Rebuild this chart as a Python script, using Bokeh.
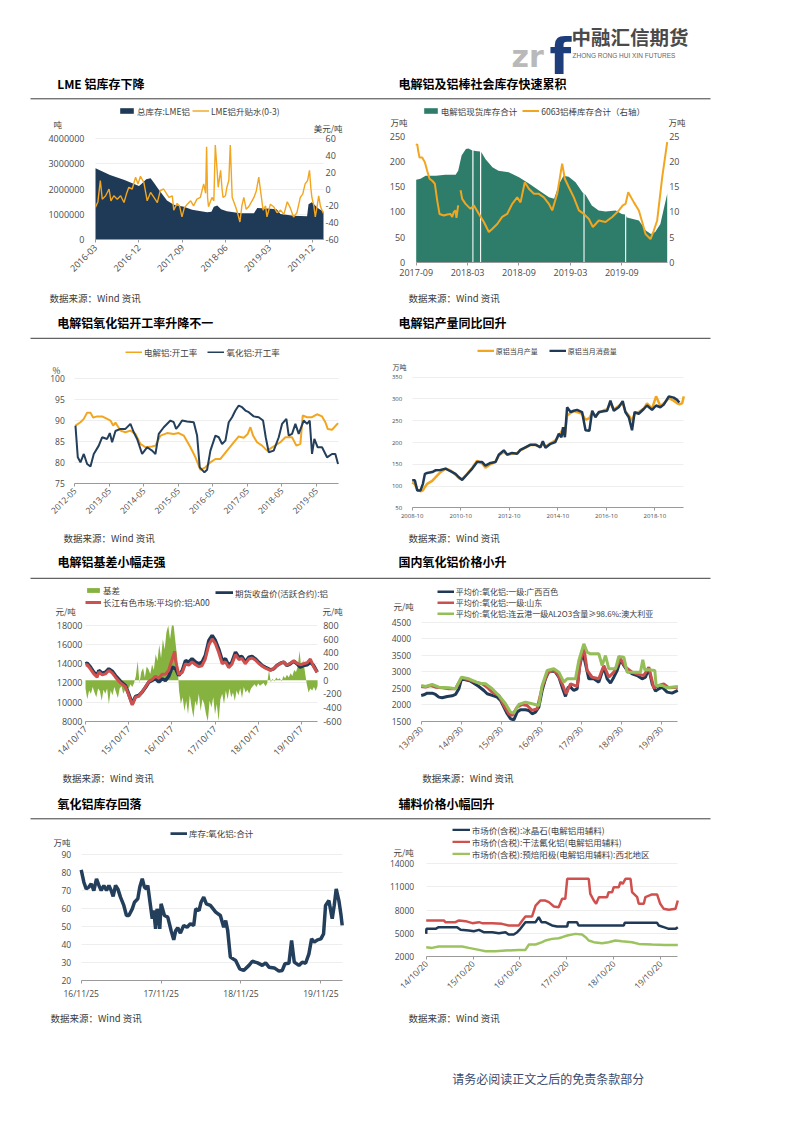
import math
import numpy as np
from bokeh.plotting import figure
from bokeh.models import Range1d, LinearAxis, FixedTicker, Legend, LegendItem, Label
from bokeh.layouts import column, row
from bokeh.core.properties import value
from bokeh.embed import file_html
from bokeh.resources import INLINE

# ======================= DATA =======================
# Chart 1: LME inventory (t) and LME 0-3 spread (USD/t); x = months since 2016-03
lme_inventory = [(0, 2820000), (3, 2550000), (6, 2350000), (9, 2120000), (9.5, 2200000), (10.5, 2380000),
                 (11.4, 2420000), (12.1, 2250000), (13, 2000000), (14.8, 1550000), (16.2, 1380000),
                 (18.3, 1300000), (20, 1180000), (23.1, 1080000), (24, 1100000), (24.5, 1300000),
                 (25.2, 1350000), (26, 1200000), (27.2, 1120000), (30, 1050000), (32.8, 1050000),
                 (33.5, 1250000), (36.2, 1220000), (37.5, 1200000), (38.3, 1020000), (41, 950000),
                 (43.8, 930000), (44.1, 1400000), (44.8, 1480000), (46, 1250000), (47.2, 1100000)]
lme_spread = [(0, -21.5), (0.5, -15), (1.0, 10), (1.4, -12), (2.1, -8), (2.8, 0), (3.2, -14), (3.8, -8),
              (4.5, -12), (5.2, -8), (5.9, -16), (6.4, -6), (6.9, 2), (7.6, 0), (8.3, 14), (8.8, 6),
              (9.3, 15), (10.0, 8), (10.7, -14), (11.4, -4), (12.1, -10), (12.8, -16), (13.4, -2),
              (14.1, 0), (15.2, -10), (15.9, -8), (16.2, -25), (16.9, -17), (17.4, -20), (17.9, -33),
              (18.4, -22), (19.0, -18), (19.7, -14), (20.3, -20), (21.0, -12), (21.7, -10), (22.4, 6),
              (22.8, -5), (23.0, 50), (23.2, -10), (23.4, -21), (24.1, -10), (24.5, -14), (24.8, 52),
              (25.2, 20), (25.4, 2), (25.9, 22), (26.2, 0), (26.4, -10), (26.9, -8), (27.2, 2),
              (27.6, 10), (27.9, 52), (28.3, -10), (29.0, -21), (29.4, -28), (29.9, -39), (30.3, -20),
              (30.7, -10), (31.2, -24), (31.7, -21), (32.2, -16), (32.8, -10), (33.3, -2), (33.8, 14),
              (34.3, -8), (34.7, -25), (35.2, -20), (35.5, -33), (36.2, -18), (36.9, -21), (37.6, -28),
              (38.3, -25), (39.0, -30), (39.7, -15), (40.3, -22), (41.0, -33), (41.7, -28), (42.4, -10),
              (42.9, -6), (43.4, 6), (43.9, 10), (44.3, 22), (44.6, 0), (44.8, -10), (45.2, -20),
              (45.5, -33), (45.9, -20), (46.2, -8), (46.6, -21), (46.9, -25), (47.2, -29)]
lme_xticks = [0, 9, 18, 27, 36, 45]
lme_xlabels = ["2016-03", "2016-12", "2017-09", "2018-06", "2019-03", "2019-12"]
lme_yticks = [0, 1000000, 2000000, 3000000, 4000000]
lme_rticks = [-60, -40, -20, 0, 20, 40, 60]

# Chart 2: social inventory (10kt) and 6063 billet inventory (10kt, right); x = months since 2017-09
social_stock = [(0, 164), (0.5, 166), (1.1, 172), (2.3, 172), (3.4, 174), (4.6, 174), (4.9, 182), (5.3, 212),
                (5.8, 225), (6.1, 226), (6.55, 222), (6.56, 0), (6.68, 0), (6.69, 222), (6.9, 221),
                (7.45, 220), (7.46, 0), (7.58, 0), (7.59, 219), (8.1, 205), (8.9, 189), (9.6, 182),
                (10.8, 179), (12.0, 169), (13.2, 156), (14.3, 143), (15.5, 129), (16.1, 126), (16.7, 156),
                (17.2, 172), (17.8, 170), (18.6, 159), (19.4, 139), (19.52, 137), (19.53, 0), (19.65, 0),
                (19.66, 136), (19.8, 133), (20.5, 113), (21.3, 103), (22.1, 101), (23.3, 103), (24.0, 96),
                (24.38, 95), (24.39, 0), (24.51, 0), (24.52, 92), (24.6, 89), (26.0, 83), (26.8, 63),
                (27.4, 56), (27.9, 60), (28.5, 76), (29.3, 136)]
billet_stock = [(0, 23.2), (0.12, 23.5), (0.23, 22.2), (0.39, 20.8), (0.70, 20.8), (1.01, 19.9), (1.28, 18.2),
                (1.56, 16.6), (1.87, 16.2), (2.18, 15.6), (2.45, 12.3), (2.72, 9.6), (3.23, 9.3), (3.62, 9.5),
                (4.01, 9.6), (4.20, 9.0), (4.4, 10.0), (4.59, 10.3), (4.7, 8.8), (4.90, 11.3),
                (5.0, float("nan")),
                (5.18, 14.3), (5.37, 12.6), (5.76, 11.6), (6.34, 10.6), (6.73, 11.3), (7.32, 9.6),
                (7.90, 8.0), (8.48, 6.0), (8.87, 6.6), (9.46, 7.6), (10.04, 9.0), (10.62, 9.6), (11.21, 11.6),
                (11.79, 12.9), (12.18, 11.9), (12.68, 15.9), (13.15, 14.6), (13.74, 13.6), (14.32, 13.6),
                (14.90, 12.9), (15.49, 11.6), (15.88, 10.3), (16.46, 13.6), (17.04, 19.6), (17.35, 16.6),
                (17.82, 14.9), (18.40, 12.9), (18.99, 10.3), (19.57, 9.6), (20.16, 8.6), (20.62, 7.0),
                (21.32, 8.3), (22.10, 8.0), (22.88, 9.0), (23.66, 10.3), (24.12, 11.3), (24.44, 11.6),
                (24.75, 13.9), (25.41, 11.9), (25.99, 10.3), (26.38, 8.0), (26.77, 5.6), (27.35, 4.6),
                (27.74, 6.3), (28.13, 8.3), (28.72, 16.9), (29.30, 23.9)]
soc_xticks = [0, 6, 12, 18, 24]
soc_xlabels = ["2017-09", "2018-03", "2018-09", "2019-03", "2019-09"]
soc_yticks = [0, 50, 100, 150, 200, 250]
soc_rticks = [0, 5, 10, 15, 20, 25]

# Chart 3: operating rates (%); x = months since 2012-05
smelter_rate = [(0.23, 88.8), (1.97, 89.6), (3.13, 90.4), (4.29, 91.9), (5.45, 91.9), (6.37, 90.7), (7.76, 91.0),
                (9.50, 91.0), (11.24, 90.4), (12.40, 90.0), (13.33, 88.8), (14.14, 89.5), (15.87, 87.6),
                (17.61, 87.2), (19.35, 87.6), (21.09, 86.8), (22.83, 84.4), (24.57, 83.6), (26.88, 83.8),
                (28.04, 84.0), (29.78, 86.4), (32.10, 87.0), (34.41, 86.8), (36.15, 87.0), (37.89, 86.4),
                (40.21, 83.6), (41.95, 81.2), (43.68, 78.2), (45.42, 78.8), (47.16, 80.0), (48.90, 80.8),
                (50.64, 80.8), (52.95, 82.8), (55.27, 84.8), (57.01, 86.2), (58.75, 85.9), (60.14, 86.8),
                (61.07, 88.4), (62.00, 86.4), (63.38, 84.8), (65.12, 84.0), (66.86, 82.8), (69.18, 83.8),
                (71.50, 84.8), (73.23, 86.0), (75.55, 86.0), (77.06, 84.0), (78.45, 84.4), (79.26, 91.2),
                (80.77, 90.8), (82.50, 90.8), (84.24, 91.5), (85.98, 91.0), (87.14, 89.6), (87.95, 88.0),
                (89.46, 87.8), (91.54, 89.4)]
alumina_rate = [(0.23, 88.8), (1.04, 81.2), (1.97, 80.0), (3.13, 82.0), (4.29, 79.6), (5.45, 79.0), (6.60, 82.0),
                (8.34, 84.0), (9.50, 86.0), (11.24, 85.6), (12.17, 87.0), (12.98, 84.8), (14.14, 87.5),
                (15.87, 88.0), (17.61, 88.0), (19.35, 89.2), (20.51, 87.2), (21.67, 85.6), (23.41, 82.0),
                (25.14, 83.6), (26.88, 82.8), (28.04, 82.0), (29.20, 86.8), (30.94, 88.4), (33.26, 90.0),
                (34.41, 89.6), (35.23, 88.0), (36.15, 88.8), (37.31, 90.0), (39.05, 89.8), (41.37, 89.6),
                (42.53, 86.4), (43.45, 78.8), (45.08, 77.6), (46.00, 78.2), (47.16, 82.8), (48.90, 86.4),
                (50.06, 86.0), (51.22, 84.4), (52.38, 85.2), (53.53, 89.6), (54.69, 90.8), (55.85, 92.4),
                (57.01, 93.6), (58.17, 93.2), (59.33, 92.4), (60.49, 92.0), (62.22, 91.0), (63.96, 90.8),
                (65.47, 90.0), (66.40, 86.0), (67.44, 82.4), (69.18, 82.8), (70.92, 86.0), (72.07, 89.2),
                (73.58, 90.4), (74.39, 86.4), (75.55, 86.8), (76.71, 89.2), (77.87, 86.8), (79.61, 90.0),
                (80.77, 89.2), (81.69, 90.0), (82.50, 82.0), (83.31, 85.6), (84.47, 83.6), (85.98, 83.6),
                (87.72, 81.2), (89.46, 82.0), (90.61, 82.0), (91.54, 79.6)]
rate_xticks = [0, 12, 24, 36, 48, 60, 72, 84]
rate_xlabels = ["2012-05", "2013-05", "2014-05", "2015-05", "2016-05", "2017-05", "2018-05", "2019-05"]
rate_yticks = [75, 80, 85, 90, 95, 100]

# Chart 4: primary aluminium output / consumption (10kt); x = months since 2008-10
al_output = [(0, 108), (1.3, 104), (2.5, 92), (4.1, 88), (5.3, 90), (6.3, 98), (7.4, 105), (9.9, 112),
             (11.5, 120), (14.0, 132), (16.5, 140), (18.9, 136), (21.4, 126), (23.1, 118), (24.7, 116),
             (27.2, 128), (29.7, 142), (32.1, 158), (34.6, 152), (36.2, 142), (38.7, 150), (41.2, 156),
             (42.8, 170), (45.3, 178), (47.0, 172), (49.4, 174), (51.9, 176), (53.5, 182), (56.0, 188),
             (58.5, 194), (61.0, 194), (63.4, 190), (64.6, 198), (65.9, 190), (68.4, 198), (70.8, 205),
             (72.5, 215), (73.8, 225), (74.6, 230), (75.5, 218), (76.6, 262), (78.3, 268), (79.9, 272),
             (81.5, 270), (84.0, 266), (85.7, 252), (87.6, 256), (89.0, 268), (90.6, 262), (92.3, 268),
             (94.7, 274), (96.4, 276), (98.0, 290), (99.7, 276), (102.1, 284), (104.1, 290), (105.4, 272),
             (107.1, 262), (108.7, 250), (110.0, 266), (112.0, 270), (114.5, 278), (116.1, 290),
             (118.6, 278), (120.6, 306), (122.7, 284), (124.4, 290), (126.9, 302), (129.3, 296),
             (131.0, 290), (132.1, 288), (133.5, 290), (134.3, 306)]
al_consumption = [(0, 113), (1.3, 113), (2.5, 90), (4.1, 90), (5.3, 105), (6.3, 128), (7.4, 130), (9.9, 132),
                  (11.5, 136), (14.0, 137), (16.5, 140), (18.9, 134), (21.4, 128), (23.1, 120), (24.7, 114),
                  (27.2, 127), (29.7, 140), (32.1, 155), (34.6, 155), (36.2, 147), (38.7, 153), (41.2, 155),
                  (42.8, 172), (45.3, 182), (47.0, 172), (49.4, 176), (51.9, 174), (53.5, 183), (56.0, 189),
                  (58.5, 195), (61.0, 195), (63.4, 189), (64.6, 203), (65.9, 188), (68.4, 197), (70.8, 201),
                  (72.5, 220), (73.8, 212), (74.6, 235), (75.5, 212), (76.6, 281), (78.3, 270), (79.9, 273),
                  (81.5, 275), (84.0, 270), (85.7, 228), (87.6, 227), (89.0, 273), (90.6, 258), (92.3, 270),
                  (94.7, 272), (96.4, 273), (98.0, 296), (99.7, 273), (102.1, 281), (104.1, 295),
                  (105.4, 270), (107.1, 258), (108.7, 228), (110.0, 270), (112.0, 266), (114.5, 277),
                  (116.1, 285), (118.6, 275), (120.6, 285), (122.7, 281), (124.4, 287), (126.9, 306),
                  (129.3, 303), (131.0, 298), (132.1, 292)]
prod_xticks = [0, 24, 48, 72, 96, 120]
prod_xlabels = ["2008-10", "2010-10", "2012-10", "2014-10", "2016-10", "2018-10"]
prod_yticks = [50, 100, 150, 200, 250, 300, 350]

# Chart 5: basis (right axis, every half month from 14/10/17; spikes above 800 are cut by the frame)
basis_values = [-120, -280, -150, -200, -100, -180, -250, -120, -160, -300, -140, -200, -120, -350,
                -150, -220, -100, -180, -260, -120, -90, -200, -140, -80, -120, -60, -100, -40,
                60, 280, -40, 120, 180, 40, 200, 160, 90, 230, 150, 380, 280, 520,
                320, 600, 450, 700, 800, 600, 800, 800, 560, 320, -150, -350, -250, -450,
                -300, -500, -220, -400, -550, -300, -380, -200, -450, -280, -350, -500, -600, -300,
                -400, -250, -500, -350, -600, -280, -200, -350, -150, -280, -120, -250, -180, -300,
                -150, -220, -120, -260, -100, -180, -140, -200, -120, -90, -60, -100, -50, -80,
                -60, -40, -90, -50, 150, -30, 20, -20, 40, 10, 30, -20, 60, 30,
                80, 40, 100, 60, 150, 120, 200, 430, 160, 300, 120, -60, -180, -120,
                -150, -100, -160, -80]
futures_price = [(0, 13990), (0.46, 14060), (1.39, 13640), (2.31, 13120), (3.24, 12770), (3.7, 13300),
                 (4.63, 13020), (5.56, 13120), (6.48, 13470), (7.41, 13230), (8.33, 12770), (9.72, 12180),
                 (11.1, 11730), (12.0, 10860), (13.0, 9810), (13.9, 10580), (14.8, 10680), (15.7, 11030),
                 (16.7, 11550), (17.6, 12080), (18.5, 12250), (19.4, 12430), (20.4, 12100), (21.3, 12430),
                 (22.2, 12250), (23.1, 12670), (24.1, 13640), (25.0, 13500), (25.9, 12770), (26.9, 13300),
                 (27.8, 14340), (28.7, 14170), (29.6, 14520), (30.6, 14170), (31.5, 13990), (32.4, 14170),
                 (33.3, 14860), (34.3, 16430), (35.2, 16950), (36.1, 16430), (37.0, 15560), (38.0, 14340),
                 (38.9, 14520), (39.8, 13820), (40.7, 14170), (41.7, 15210), (42.6, 14690), (43.5, 14760),
                 (44.4, 14170), (45.4, 14690), (46.3, 14760), (47.2, 14520), (48.1, 14170), (49.1, 13820),
                 (50.0, 13640), (51.4, 13370), (52.3, 13470), (53.2, 13820), (54.2, 14060), (55.1, 14170),
                 (56.0, 13820), (56.9, 13990), (57.9, 14270), (58.8, 13990), (59.7, 13640), (60.6, 13820),
                 (61.6, 13890), (62.5, 14170), (63.4, 13820), (64.4, 13120)]
spot_price = [(0, 13850), (0.46, 13900), (1.39, 13450), (2.31, 12950), (3.24, 12600), (3.7, 13150),
              (4.63, 12850), (5.56, 12950), (6.48, 13300), (7.41, 13050), (8.33, 12600), (9.72, 12000),
              (11.1, 11600), (12.0, 10750), (13.0, 9700), (13.9, 10500), (14.8, 10600), (15.7, 11050),
              (16.7, 11600), (17.6, 12150), (18.5, 12350), (19.4, 12700), (20.4, 12500), (21.3, 12900),
              (22.2, 12900), (23.1, 13300), (24.1, 14500), (24.8, 15300), (25.0, 14400), (25.9, 12900),
              (26.9, 13100), (27.8, 14000), (28.7, 13850), (29.6, 14200), (30.6, 13900), (31.5, 13700),
              (32.4, 13800), (33.3, 14500), (34.3, 16000), (35.2, 16600), (36.1, 16100), (37.0, 15200),
              (38.0, 14000), (38.9, 14200), (39.8, 13600), (40.7, 13950), (41.7, 14950), (42.6, 14450),
              (43.5, 14550), (44.4, 14000), (45.4, 14500), (46.3, 14600), (47.2, 14400), (48.1, 14050),
              (49.1, 13750), (50.0, 13550), (51.4, 13300), (52.3, 13500), (53.2, 13800), (54.2, 14050),
              (55.1, 14200), (56.0, 13850), (56.9, 14050), (57.9, 14300), (58.8, 14050), (59.7, 13900),
              (60.6, 14000), (61.6, 14100), (62.5, 14500), (63.4, 13700), (64.4, 13100)]
basis_xticks = [0, 12, 24, 36, 48, 60]
basis_xlabels = ["14/10/17", "15/10/17", "16/10/17", "17/10/17", "18/10/17", "19/10/17"]
basis_yticks = [8000, 10000, 12000, 14000, 16000, 18000]
basis_rticks = [-600, -400, -200, 0, 200, 400, 600, 800]

# Chart 6: alumina prices (yuan/t); x = months since 13/9/30
alumina_guangxi = [(0, 2287), (0.8, 2307), (1.8, 2357), (3.3, 2357), (4.3, 2317), (5.3, 2237), (6.3, 2216),
                   (7.8, 2257), (9.3, 2277), (10.3, 2317), (11.3, 2488), (12.1, 2790), (13.3, 2760),
                   (14.8, 2720), (15.8, 2659), (17.3, 2558), (18.8, 2438), (19.8, 2337), (21.3, 2287),
                   (22.8, 2237), (23.8, 2136), (24.8, 1935), (25.8, 1733), (26.8, 1582), (27.8, 1552),
                   (28.8, 1784), (29.8, 1854), (31.3, 1854), (32.3, 1834), (33.3, 1733), (34.3, 1784),
                   (35.3, 1935), (36.3, 2438), (37.3, 2790), (38.3, 3021), (39.3, 3021), (40.3, 2991),
                   (41.3, 2840), (42.3, 2538), (43.3, 2257), (44.1, 2538), (44.8, 2538), (45.8, 2438),
                   (46.8, 2488), (47.5, 3142), (48.5, 3595), (49.3, 3242), (50.3, 2790), (51.8, 2790),
                   (53.3, 2689), (54.8, 3142), (55.8, 2790), (56.8, 2659), (57.8, 2840), (58.8, 3041),
                   (59.8, 3363), (60.8, 3192), (61.8, 3041), (63.3, 2941), (64.8, 2890), (66.3, 2790),
                   (67.3, 2840), (68.3, 3092), (69.3, 2639), (70.3, 2417), (71.3, 2488), (72.3, 2538),
                   (73.8, 2387), (75.3, 2357), (77.0, 2438)]
alumina_shandong = [(0, 2558), (1.3, 2538), (2.8, 2588), (4.3, 2538), (6.3, 2518), (8.3, 2488), (10.3, 2488),
                    (12.1, 2820), (14.3, 2760), (16.3, 2689), (18.3, 2639), (19.8, 2538), (21.3, 2387),
                    (23.3, 2287), (24.8, 1985), (26.3, 1733), (27.3, 1683), (28.8, 1935), (30.3, 2015),
                    (31.8, 1985), (33.3, 1834), (34.8, 1885), (36.3, 2538), (37.8, 2941), (39.3, 3061),
                    (40.8, 2961), (42.3, 2639), (43.5, 2337), (44.8, 2639), (46.8, 2558), (47.8, 3343),
                    (48.8, 3746), (49.8, 3041), (51.3, 2840), (53.3, 2790), (54.8, 3192), (56.3, 2840),
                    (57.8, 2991), (59.8, 3393), (61.3, 3142), (63.3, 2991), (65.3, 2920), (66.8, 2890),
                    (68.3, 3142), (69.8, 2518), (71.3, 2588), (72.8, 2639), (74.3, 2518), (77.0, 2538)]
alumina_australia = [(0, 2588), (1.3, 2558), (3.3, 2618), (5.3, 2538), (8.3, 2518), (10.3, 2488), (12.1, 2840),
                     (14.3, 2790), (17.3, 2659), (19.3, 2639), (21.3, 2488), (23.3, 2287), (25.3, 2035),
                     (26.8, 1784), (27.8, 1754), (29.3, 2015), (31.3, 2086), (33.3, 2035), (35.3, 1985),
                     (36.3, 2588), (37.8, 3041), (39.8, 3092), (41.3, 2991), (42.8, 2689), (43.8, 2790),
                     (46.3, 2790), (47.3, 3343), (48.8, 3847), (49.8, 3595), (50.8, 3545), (53.3, 3545),
                     (54.3, 3192), (55.3, 3494), (56.3, 3092), (58.3, 3092), (59.3, 3464), (60.8, 3444),
                     (61.8, 2991), (65.8, 2991), (66.5, 3363), (67.1, 3061), (68.3, 3061), (70.1, 3041),
                     (70.5, 2588), (72.3, 2588), (73.8, 2518), (77.0, 2558)]
ao_xticks = [0, 12, 24, 36, 48, 60, 72]
ao_xlabels = ["13/9/30", "14/9/30", "15/9/30", "16/9/30", "17/9/30", "18/9/30", "19/9/30"]
ao_yticks = [1500, 2000, 2500, 3000, 3500, 4000, 4500]

# Chart 7: alumina inventory (10kt); x = months since 16/11/25
alumina_stock = [(0, 81.5), (0.4, 74.6), (0.75, 70.9), (1.15, 71.9), (1.5, 73.7), (1.9, 70.0), (2.3, 76.5),
                 (2.66, 72.8), (3.0, 70.0), (3.4, 72.8), (3.8, 70.0), (4.16, 72.8), (4.5, 70.0), (4.8, 66.7),
                 (5.16, 72.8), (5.5, 70.9), (5.9, 66.3), (6.4, 61.7), (6.8, 56.1), (7.16, 56.1), (7.67, 59.8),
                 (8.0, 63.5), (8.5, 65.4), (8.8, 71.9), (9.17, 76.5), (9.5, 71.9), (9.8, 70.9), (10.0, 72.8),
                 (10.3, 64.4), (10.67, 54.3), (10.9, 58.9), (11.17, 48.7), (11.4, 59.8), (11.67, 55.2),
                 (11.8, 48.7), (12.0, 62.6), (12.5, 56.1), (13.0, 55.2), (13.5, 47.8), (13.9, 42.6),
                 (14.2, 47.8), (14.5, 49.3), (14.9, 46.3), (15.4, 50.6), (15.9, 49.6), (16.4, 51.5),
                 (16.9, 50.6), (17.2, 59.8), (17.7, 58.9), (18.0, 63.5), (18.4, 66.3), (18.8, 62.6),
                 (19.4, 61.7), (20.2, 58.0), (20.9, 56.1), (21.4, 49.6), (21.7, 53.3), (22.0, 47.8),
                 (22.4, 33.0), (23.2, 31.1), (23.8, 26.5), (24.4, 25.6), (25.2, 28.4), (25.7, 30.7),
                 (26.5, 29.8), (27.2, 28.4), (27.7, 29.8), (28.2, 27.4), (29.0, 27.0), (29.7, 25.2),
                 (30.2, 25.6), (30.6, 29.3), (31.2, 29.6), (31.6, 42.2), (32.0, 30.2), (32.7, 28.4),
                 (33.2, 30.2), (33.7, 29.6), (34.2, 34.8), (34.6, 43.1), (35.0, 41.3), (35.5, 42.6),
                 (36.0, 43.1), (36.4, 45.9), (36.7, 61.7), (37.2, 64.4), (37.7, 54.3), (38.0, 61.7),
                 (38.3, 70.9), (38.7, 64.4), (39.0, 57.0), (39.2, 50.6)]
aos_xticks = [0, 12, 24, 36]
aos_xlabels = ["16/11/25", "17/11/25", "18/11/25", "19/11/25"]
aos_yticks = [20, 30, 40, 50, 60, 70, 80, 90]

# Chart 8: auxiliary material prices (yuan/t); x = months since 14/10/20
cryolite = [(0, 4900), (0.05, 5550), (0.7, 5550), (2.4, 5550), (3.2, 5770), (7.9, 5770), (8.8, 5420), (10.9, 5340),
            (12.2, 5250), (13.5, 5420), (14.7, 5120), (16.9, 5120), (18.6, 4990), (20.3, 5120), (21.1, 4820),
            (22.4, 4820), (23.3, 5120), (24.1, 5550), (25.4, 6420), (28.0, 6420), (28.8, 7070), (29.5, 6420),
            (30.5, 6420), (31.4, 6200), (32.2, 5990), (33.5, 5860), (36.1, 5860), (36.3, 6420), (38.6, 6420),
            (39.0, 5990), (50.6, 5990), (50.8, 6330), (59.1, 6330), (59.5, 5990), (60.8, 5770), (62.1, 5550),
            (63.8, 5550), (64.4, 5770)]
aluminium_fluoride = [(0, 6640), (4.5, 6640), (4.9, 6420), (7.5, 6420), (8.4, 6640), (10.1, 6550), (11.8, 6290),
                      (13.5, 6420), (14.3, 6290), (16.9, 6290), (19.4, 6200), (21.1, 5990), (23.7, 5990),
                      (24.6, 6640), (25.4, 7160), (27.1, 7160), (28.0, 8580), (29.2, 9230), (30.5, 9230),
                      (31.4, 9020), (32.7, 8460), (33.9, 8370), (34.8, 9450), (35.6, 9450), (36.1, 12050),
                      (41.6, 12050), (42.0, 10100), (42.9, 9230), (43.5, 8800), (44.2, 9670), (46.3, 9670),
                      (46.7, 10320), (47.6, 10320), (48.0, 10970), (49.3, 10970), (49.7, 11620), (50.3, 11400),
                      (51.0, 12050), (52.3, 12050), (52.7, 10320), (54.0, 9670), (54.4, 8800), (55.7, 8800),
                      (56.1, 9670), (57.8, 10020), (59.1, 10020), (59.9, 8800), (60.8, 8150), (62.1, 8020),
                      (63.8, 8150), (64.4, 9230)]
prebaked_anode = [(0, 3170), (1.5, 3080), (3.2, 3260), (9.2, 3260), (10.9, 3080), (13.5, 2820), (15.2, 2650),
                  (17.7, 2650), (20.3, 2740), (23.7, 2820), (25.4, 2820), (26.3, 3520), (28.0, 3520),
                  (29.7, 3820), (30.5, 4040), (32.2, 4250), (33.9, 4340), (34.8, 4470), (36.1, 4690),
                  (38.2, 4900), (39.9, 4820), (40.8, 4470), (41.6, 4040), (42.9, 3820), (45.0, 3690),
                  (46.7, 3820), (48.4, 4040), (50.1, 3950), (52.7, 3820), (54.4, 3600), (57.8, 3520),
                  (61.2, 3470), (64.4, 3470)]
aux_xticks = [0, 12, 24, 36, 48, 60]
aux_xlabels = ["14/10/20", "15/10/20", "16/10/20", "17/10/20", "18/10/20", "19/10/20"]
aux_yticks = [2000, 5000, 8000, 11000, 14000]

# ======================= STYLE =======================
CJK = "Noto Sans CJK SC"
NUM = "Open Sans"
TICK_C = "#4a4a4a"
AXIS_C = "#9a9a9a"
GRID_C = "#eeeeee"
NAVY = "#1f3a56"
ORANGE = "#f2a51f"
TEAL = "#2e7d6a"
RED = "#d0504e"
LGREEN = "#94bf58"
BGREEN = "#86b340"
ROT = math.pi / 4
H = 184
PAGE_W = 790
LEFT_W = 385
RIGHT_W = PAGE_W - LEFT_W


def xy(pairs):
    return [a for a, b in pairs], np.array([b for a, b in pairs], dtype=float)


def style_ax(ax, ticks, labels, fs, standoff=5, line=False, rot=None):
    t = FixedTicker(ticks=ticks)
    ax.ticker = t
    ax.major_label_overrides = {k: v for k, v in zip(ticks, labels)}
    ax.major_label_text_font = NUM
    ax.major_label_text_font_size = fs
    ax.major_label_text_color = TICK_C
    ax.minor_tick_line_color = None
    ax.major_label_standoff = standoff
    ax.major_tick_in = 0
    if line:
        ax.axis_line_color = AXIS_C
        ax.major_tick_line_color = AXIS_C
        ax.major_tick_out = 3
    else:
        ax.axis_line_color = None
        ax.major_tick_line_color = None
        ax.major_tick_out = 0
    if rot is not None:
        ax.major_label_orientation = rot
    return t


def make_chart(W, L, R, T, D, xmax, yrng, xt, xl, xfs, yt, yfs, ystand, xrot=None, xstand=3,
               rrng=None, rt=None, rstand=2, grid=True):
    """The frame fills the whole figure; the data region sits at x L..R and y T..D (figure pixels),
    and the axes are pinned to the data region's edges."""
    dh = D - T
    dw = R - L
    ymin, ymax = yrng
    x0 = -L / dw * xmax
    x1 = xmax + (W - R) / dw * xmax
    span = ymax - ymin
    y0 = ymin - (H - D) / dh * span
    y1 = ymax + T / dh * span
    p = figure(width=W, height=H, x_range=Range1d(x0, x1), y_range=Range1d(y0, y1),
               output_backend="svg", toolbar_location=None, min_border=0)
    p.outline_line_color = None
    p.xgrid.visible = False
    xa = p.xaxis[0]
    style_ax(xa, xt, xl, xfs, standoff=xstand, line=True, rot=xrot)
    xa.bounds = (0, xmax)
    xa.fixed_location = ymin
    ya = p.yaxis[0]
    t = style_ax(ya, yt, [str(v) for v in yt], yfs, standoff=ystand)
    ya.fixed_location = 0
    g = p.ygrid[0]
    g.ticker = t
    g.grid_line_color = GRID_C if grid else None
    if grid:
        try:
            g.cross_bounds = (0, xmax)
        except Exception:
            g.visible = False
            p.segment(x0=[0] * len(yt), x1=[xmax] * len(yt), y0=yt, y1=yt, line_color=GRID_C, level="underlay")
    if rrng is not None:
        rmin, rmax = rrng
        rspan = rmax - rmin
        p.extra_y_ranges = {"r": Range1d(rmin - (H - D) / dh * rspan, rmax + T / dh * rspan)}
        ra = LinearAxis(y_range_name="r")
        style_ax(ra, rt, [str(v) for v in rt], yfs, standoff=rstand)
        ra.fixed_location = xmax
        p.add_layout(ra, "right")
    return p


def add_legend(p, items, x, vy, orientation="horizontal", fs="8.5px", gw=17, gh=7,
               spacing=4, standoff=2, item_h=10):
    """vy: distance in px from the figure bottom to the legend's bottom edge."""
    lg = Legend(items=[LegendItem(label=l, renderers=[r]) for l, r in items],
                location=(x, vy), orientation=orientation,
                label_text_font=CJK, label_text_font_size=fs, label_text_color="#404040",
                glyph_width=gw, glyph_height=gh, label_height=item_h, label_width=0,
                spacing=spacing, padding=0, margin=0, label_standoff=standoff,
                border_line_color=None, background_fill_alpha=0)
    p.add_layout(lg)


def unit(p, x, y_fig, text, fs="8.5px", align="left"):
    p.add_layout(Label(x=x, y=H - y_fig, x_units="screen", y_units="screen", text=text,
                       text_font=CJK, text_font_size=fs, text_color="#404040",
                       text_baseline="middle", text_align=align))


def band(h, texts, rules):
    b = figure(width=PAGE_W, height=h, x_range=Range1d(0, PAGE_W), y_range=Range1d(h, 0),
               output_backend="svg", toolbar_location=None, min_border=0,
               x_axis_type=None, y_axis_type=None)
    b.outline_line_color = None
    b.grid.visible = False
    for (x, y, t, fs, bold, color, font) in texts:
        b.text(x=[x], y=[y], text=[t], text_font=value(font), text_font_size=fs,
               text_font_style="bold" if bold else "normal", text_color=color,
               text_baseline="middle", text_align="left")
    for (x0, x1, y) in rules:
        b.segment(x0=[x0], y0=[y], x1=[x1], y1=[y], line_color="#3c3c3c", line_width=1)
    return b


SRC = "数据来源：Wind 资讯"
SRC_C = "#3a3a3a"
TB = "#000000"

# ======================= BANDS (page coordinates) =======================
bandA = figure(width=PAGE_W, height=104, x_range=Range1d(0, PAGE_W), y_range=Range1d(104, 0),
               output_backend="svg", toolbar_location=None, min_border=0,
               x_axis_type=None, y_axis_type=None)
bandA.outline_line_color = None
bandA.grid.visible = False
bandA.text(x=[511], y=[56], text=["zr"], text_font=value("DejaVu Sans"), text_font_size="30px",
           text_font_style="bold", text_color="#b9b9b9", text_baseline="alphabetic")
bandA.text(x=[549], y=[56], text=["f"], text_font=value("DejaVu Sans"), text_font_size="50px",
           text_font_style="bold", text_color="#1e3d7b", text_baseline="alphabetic")
bandA.text(x=[571], y=[35.5], text=["中融汇信期货"], text_font=value(CJK), text_font_size="19.5px",
           text_font_style="bold", text_color="#4a4a4a", text_baseline="middle")
bandA.text(x=[572], y=[54.5], text=["ZHONG RONG HUI XIN FUTURES"], text_font=value("Liberation Sans"),
           text_font_size="6.5px", text_color="#666666", text_baseline="middle")
bandA.text(x=[56.7], y=[83], text=["LME 铝库存下降"], text_font=value(CJK), text_font_size="12px",
           text_font_style="bold", text_color=TB, text_baseline="middle")
bandA.text(x=[398], y=[83], text=["电解铝及铝棒社会库存快速累积"], text_font=value(CJK), text_font_size="12px",
           text_font_style="bold", text_color=TB, text_baseline="middle")
bandA.segment(x0=[30], y0=[98.3], x1=[710], y1=[98.3], line_color="#3c3c3c", line_width=1)

bandB = band(56, [(49, 9.7, SRC, "9.5px", False, SRC_C, CJK),
                  (408, 9.7, SRC, "9.5px", False, SRC_C, CJK),
                  (56.7, 34, "电解铝氧化铝开工率升降不一", "12px", True, TB, CJK),
                  (398, 34, "电解铝产量同比回升", "12px", True, TB, CJK)],
             [(30, 710, 49.8)])
bandC = band(56, [(63, 9.7, SRC, "9.5px", False, SRC_C, CJK),
                  (408, 9.7, SRC, "9.5px", False, SRC_C, CJK),
                  (57, 33, "电解铝基差小幅走强", "12px", True, TB, CJK),
                  (398, 33, "国内氧化铝价格小升", "12px", True, TB, CJK)],
             [(30, 710, 49.8)])
bandD = band(56, [(62, 9.7, SRC, "9.5px", False, SRC_C, CJK),
                  (421.7, 9.7, SRC, "9.5px", False, SRC_C, CJK),
                  (57, 34.5, "氧化铝库存回落", "12px", True, TB, CJK),
                  (398, 34.5, "辅料价格小幅回升", "12px", True, TB, CJK)],
             [(30, 710, 50.3)])
bandE = band(102, [(50, 9.7, SRC, "9.5px", False, SRC_C, CJK),
                   (408, 9.7, SRC, "9.5px", False, SRC_C, CJK),
                   (451.7, 70, "请务必阅读正文之后的免责条款部分", "12px", False, "#3b4a6b", CJK)],
             [])

# ======================= CHART 1 =======================
c1 = make_chart(LEFT_W, 95, 323, 33.7, 135.3, 47.2, (0, 4000000), lme_xticks, lme_xlabels, "9px",
                lme_yticks, "9px", 11, xrot=ROT, rrng=(-60, 60), rt=lme_rticks, rstand=2)
mx, mv = xy(lme_inventory)
r1a = c1.varea(x=mx, y1=0, y2=mv, fill_color=NAVY)
sx, sv = xy(lme_spread)
r1b = c1.line(x=sx, y=sv, y_range_name="r", line_color=ORANGE, line_width=1.4)
add_legend(c1, [("总库存:LME铝", r1a), ("LME铝升贴水(0-3)", r1b)], 118, 171.3, spacing=2)
unit(c1, 53, 19.3, "吨")
unit(c1, 342, 23.3, "美元/吨", align="right")

# ======================= CHART 2 =======================
c2 = make_chart(RIGHT_W, 30.7, 281.7, 32, 157.7, 29.3, (0, 250), soc_xticks, soc_xlabels, "9px",
                soc_yticks, "9px", 11, xstand=4, rrng=(0, 25), rt=soc_rticks, rstand=2, grid=False)
gx, gv = xy(social_stock)
r2a = c2.varea(x=gx, y1=0, y2=gv, fill_color=TEAL)
bx, bv = xy(billet_stock)
r2b = c2.line(x=bx, y=bv, y_range_name="r", line_color=ORANGE, line_width=2)
add_legend(c2, [("电解铝现货库存合计", r2a), ("6063铝棒库存合计（右轴）", r2b)], 36.7, 171.3, spacing=5)
unit(c2, 5, 17.7, "万吨")
unit(c2, 283, 17.7, "万吨")

# ======================= CHART 3 =======================
c3 = make_chart(LEFT_W, 74.3, 337.7, 34.3, 138.7, 91.6, (75, 100), rate_xticks, rate_xlabels, "8.5px",
                rate_yticks, "8.5px", 10, xrot=ROT)
ox, ov = xy(smelter_rate)
r3a = c3.line(x=ox, y=ov, line_color=ORANGE, line_width=2)
nx, nv = xy(alumina_rate)
r3b = c3.line(x=nx, y=nv, line_color="#243f5c", line_width=2)
add_legend(c3, [("电解铝:开工率", r3a), ("氧化铝:开工率", r3b)], 125, 169.7, spacing=10, gh=2)
unit(c3, 52, 25.3, "%")

# ======================= CHART 4 =======================
c4 = make_chart(RIGHT_W, 26.7, 298.3, 32.7, 163.3, 134.3, (50, 350), prod_xticks, prod_xlabels, "6px",
                prod_yticks, "6px", 10)
px_, pv_ = xy(al_output)
r4a = c4.line(x=px_, y=pv_, line_color=ORANGE, line_width=2.5)
cx_, cv_ = xy(al_consumption)
r4b = c4.line(x=cx_, y=cv_, line_color=NAVY, line_width=2.5)
add_legend(c4, [("原铝当月产量", r4a), ("原铝当月消费量", r4b)], 91.7, 172.3, fs="7px", spacing=11,
           gh=3, item_h=8)
unit(c4, 7, 22.7, "万吨", fs="7px")

# ======================= CHART 5 =======================
c5 = make_chart(LEFT_W, 85, 316.7, 41, 136.7, 64.4, (8000, 18000), basis_xticks, basis_xlabels, "9px",
                basis_yticks, "9px", 3, xrot=ROT, rrng=(-600, 800), rt=basis_rticks, rstand=6)
basis_months = [i * 0.5 for i in range(len(basis_values))]
r5a = c5.varea(x=basis_months, y1=0, y2=basis_values, y_range_name="r", fill_color=BGREEN)
fx, fv = xy(futures_price)
r5b = c5.line(x=fx, y=fv, line_color=NAVY, line_width=3.5)
spx, spv = xy(spot_price)
r5c = c5.line(x=spx, y=spv, line_color=RED, line_width=3)
add_legend(c5, [("基差", r5a), ("长江有色市场:平均价:铝:A00", r5c)], 85, 160.2, orientation="vertical",
           spacing=0, gw=16, gh=6)
add_legend(c5, [("期货收盘价(活跃合约):铝", r5b)], 215, 169.5, gw=18, gh=3)
unit(c5, 55, 26, "元/吨")
unit(c5, 322, 26, "元/吨")

# ======================= CHART 6 =======================
c6 = make_chart(RIGHT_W, 35.7, 292.3, 37.7, 137, 77.0, (1500, 4500), ao_xticks, ao_xlabels, "8.5px",
                ao_yticks, "8.5px", 10, xrot=ROT)
gxx, gvv = xy(alumina_guangxi)
r6a = c6.line(x=gxx, y=gvv, line_color=NAVY, line_width=3)
sdx, sdv = xy(alumina_shandong)
r6b = c6.line(x=sdx, y=sdv, line_color="#c9504c", line_width=3)
aux_, auv = xy(alumina_australia)
r6c = c6.line(x=aux_, y=auv, line_color=LGREEN, line_width=3)
add_legend(c6, [("平均价:氧化铝:一级:广西百色", r6a), ("平均价:氧化铝:一级:山东", r6b),
                ("平均价:氧化铝:连云港一级AL2O3含量≥98.6%:澳大利亚", r6c)], 51.7, 149,
           orientation="vertical", fs="8px", spacing=-1, gh=3, item_h=9)
unit(c6, 8, 21, "元/吨")

# ======================= CHART 7 =======================
c7 = make_chart(LEFT_W, 80.7, 341.7, 30, 156, 39.2, (20, 90), aos_xticks, aos_xlabels, "8.5px",
                aos_yticks, "8.5px", 10, xstand=4)
sx7, sv7 = xy(alumina_stock)
r7 = c7.line(x=sx7, y=sv7, line_color="#243f5c", line_width=3.5)
add_legend(c7, [("库存:氧化铝:合计", r7)], 170, 169, gh=3)
unit(c7, 53, 17.7, "万吨")

# ======================= CHART 8 =======================
c8 = make_chart(RIGHT_W, 40.7, 292.3, 39.3, 131.7, 64.4, (2000, 14000), aux_xticks, aux_xlabels, "8.5px",
                aux_yticks, "8.5px", 12, xrot=ROT)
kx, kv = xy(cryolite)
r8a = c8.line(x=kx, y=kv, line_color=NAVY, line_width=2.5)
fx8, fv8 = xy(aluminium_fluoride)
r8b = c8.line(x=fx8, y=fv8, line_color=RED, line_width=2.5)
ax8, av8 = xy(prebaked_anode)
r8c = c8.line(x=ax8, y=av8, line_color="#9cc35e", line_width=2.5)
add_legend(c8, [("市场价(含税):冰晶石(电解铝用辅料)", r8a), ("市场价(含税):干法氟化铝(电解铝用辅料)", r8b),
                ("市场价(含税):预焙阳极(电解铝用辅料):西北地区", r8c)], 66.7, 148.5,
           orientation="vertical", fs="8.5px", spacing=0, gh=3, gw=18)
unit(c8, 8, 27, "元/吨")

page = column(
    bandA,
    row(c1, c2, spacing=0),
    bandB,
    row(c3, c4, spacing=0),
    bandC,
    row(c5, c6, spacing=0),
    bandD,
    row(c7, c8, spacing=0),
    bandE,
    spacing=0,
)

open("out.html", "w").write(file_html(page, INLINE, title="电解铝"))
